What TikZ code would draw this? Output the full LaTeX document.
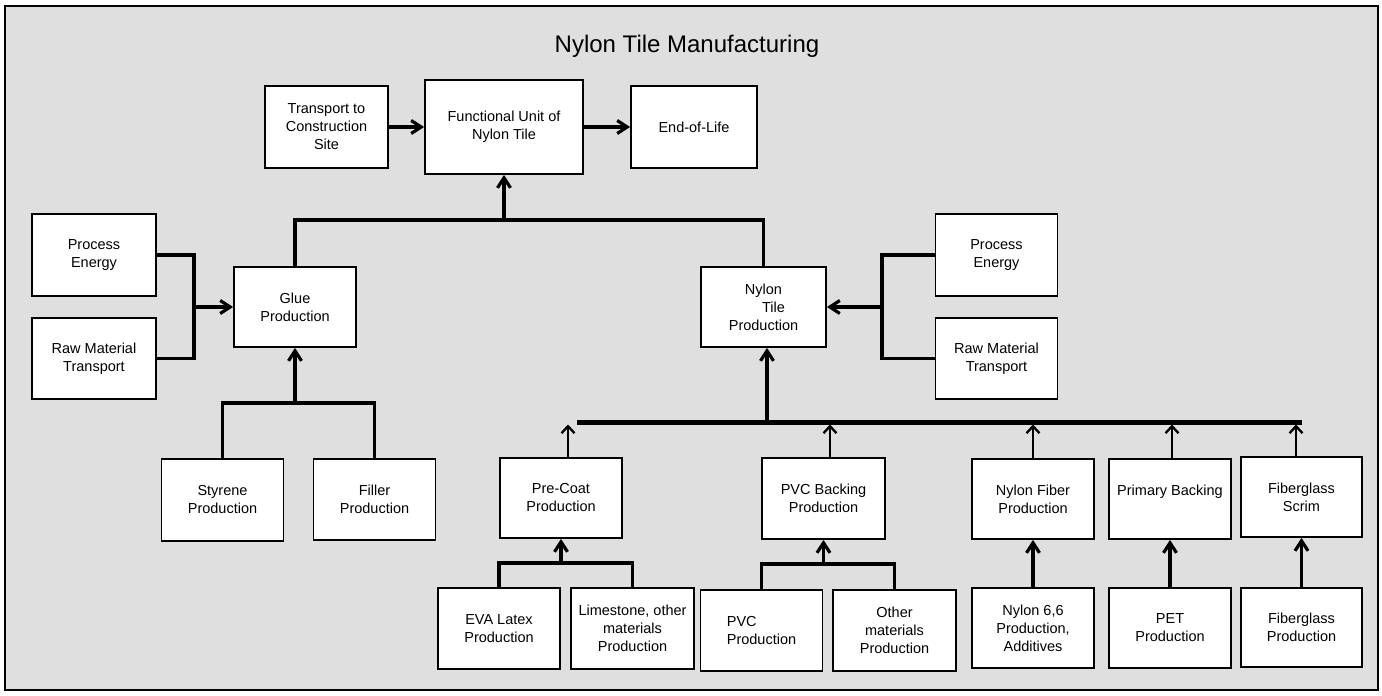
\documentclass[tikz,border=0pt]{standalone}
\usepackage{fontspec}
\setmainfont{Liberation Sans}
\usetikzlibrary{arrows.meta,positioning,calc}
\definecolor{ntmink}{HTML}{000000}
\definecolor{ntmpanel}{HTML}{DFDFDF}
\definecolor{ntmpaper}{HTML}{FFFFFF}
\tikzset{
  % every process step of the life cycle
  ntm box/.style={
    draw=ntmink, line width=1.8pt, fill=ntmpaper,
    minimum width=122pt, minimum height=81pt, inner sep=0pt,
    align=center, text=ntmink,
    font=\fontsize{14.5}{18}\selectfont,
  },
  % plain joins that gather several boxes
  ntm link/.style={
    draw=ntmink, line width=3.4pt,
  },
  % flows that end in a box
  ntm arrow/.style={
    draw=ntmink, line width=3.2pt,
    -{Straight Barb[length=10pt,width=13pt]},
  },
}
\tikzset{
  bus/.style={draw=ntmink, line width=5pt},
  feed/.style={draw=ntmink, line width=2.3pt, shorten >=2.5pt,
               -{Straight Barb[length=7pt,width=13pt]}},
}

\begin{document}
\begin{tikzpicture}[x=1pt,y=-1pt]
  \useasboundingbox (0,0) rectangle (1382,696);

  % ---- the panel -----------------------------------------------------------
  \draw[draw=ntmink,line width=2pt,fill=ntmpanel] (5,6) rectangle (1378,690);
  \node[font=\fontsize{24}{28}\selectfont,text=ntmink,anchor=base] (title)
    at (687,52) {Nylon Tile Manufacturing};

  % ---- use phase -----------------------------------------------------------
  \node[ntm box,minimum width=123pt,minimum height=82pt] (trans) at (326.5,127)
    {Transport to\\Construction\\Site};
  \node[ntm box,minimum width=158pt,minimum height=94pt] (fu) at (504,127)
    {Functional Unit of\\Nylon Tile};
  \node[ntm box,minimum width=126pt,minimum height=82pt] (eol) at (694,127)
    {End-of-Life};

  \draw[ntm arrow] (trans) -- (fu);
  \draw[ntm arrow] (fu) -- (eol);

  % ---- glue branch ---------------------------------------------------------
  \node[ntm box,minimum width=124pt,minimum height=82pt] (pel) at (94,255)
    {Process\\Energy};
  \node[ntm box,minimum width=124pt] (rml) at (94,358.5)
    {Raw Material\\Transport};
  \node[ntm box,minimum height=80pt] (glue) at (295,307) {Glue\\Production};
  \node[ntm box,minimum height=82pt] (styr) at (222.5,500) {Styrene\\Production};
  \node[ntm box,minimum height=81pt] (filler) at (374.5,499.5) {Filler\\Production};

  \coordinate (gluejoin) at (194,307);
  \draw[ntm link] (pel.east) -| (gluejoin) |- (rml.east);
  \draw[ntm arrow] (gluejoin) -- (glue);

  \coordinate (gluefeed) at (295,403);
  \draw[ntm link] (styr.north) |- (gluefeed) -| (filler.north);
  \draw[ntm arrow] (gluefeed) -- (glue);

  % ---- tile branch ---------------------------------------------------------
  \node[ntm box,minimum width=125pt,minimum height=80pt] (ntp) at (763.5,307)
    {Nylon\\\hspace*{20pt}Tile\\Production};
  \node[ntm box,minimum height=82pt] (per) at (996.5,255) {Process\\Energy};
  \node[ntm box] (rmr) at (996.5,358.5) {Raw Material\\Transport};

  \coordinate (ntpjoin) at (882,307);
  \draw[ntm link] (per.west) -| (ntpjoin) |- (rmr.west);
  \draw[ntm arrow] (ntpjoin) -- (ntp);

  % both branches meet under the functional unit
  \coordinate (fujoin) at (504,220);
  \draw[ntm link] (glue.north) |- (fujoin) -| (ntp.north);
  \draw[ntm arrow] (fujoin) -- (fu);

  % ---- tile components -----------------------------------------------------
  \node[ntm box,minimum height=80pt] (pcp) at (561,498) {Pre-Coat\\Production};
  \node[ntm box,minimum width=123pt] (pvcb) at (823.5,498.5)
    {PVC Backing\\Production};
  \node[ntm box,minimum height=80pt] (nfib) at (1033,499) {Nylon Fiber\\Production};
  \node[ntm box,minimum height=80pt] (pback) at (1170,499)
    {Primary Backing\\\mbox{}};
  \node[ntm box,minimum width=121pt,minimum height=80pt] (fgs) at (1301.5,497)
    {Fiberglass\\Scrim};

  \coordinate (busw) at (577,422);
  \coordinate (buse) at (1302,422);
  \draw[bus] (busw) -- (buse);
  \draw[ntm arrow] ([xshift=3.5pt]ntp.south |- busw) -- ([xshift=3.5pt]ntp.south);

  \draw[feed] ([xshift=7pt]pcp.north) -- ([xshift=7pt]pcp.north |- busw);
  \draw[feed] ([xshift=6.5pt]pvcb.north) -- ([xshift=6.5pt]pvcb.north |- busw);
  \draw[feed] (nfib.north) -- (nfib.north |- busw);
  \draw[feed] ([xshift=2pt]pback.north) -- ([xshift=2pt]pback.north |- busw);
  \draw[feed] ([xshift=-5.5pt]fgs.north) -- ([xshift=-5.5pt]fgs.north |- busw);

  % ---- raw materials -------------------------------------------------------
  \node[ntm box] (eva) at (499,628.5) {EVA Latex\\Production};
  \node[ntm box,minimum width=123pt] (lime) at (632.5,628.5)
    {Limestone, other\\materials\\Production};
  \node[ntm box] (pvc) at (761.5,630.5) {\rlap{PVC}\phantom{Production}\\Production};
  \node[ntm box,minimum width=123pt] (oth) at (894.5,630.5)
    {Other\\materials\\Production};
  \node[ntm box,minimum height=80pt] (n66) at (1033,628)
    {Nylon 6,6\\Production,\\Additives};
  \node[ntm box,minimum height=80pt] (pet) at (1170,628) {PET\\Production};
  \node[ntm box,minimum width=121pt,minimum height=79pt] (fgp) at (1301.5,627.5)
    {Fiberglass\\Production};

  \coordinate (pcpfeed) at (561,563);
  \draw[ntm link] (eva.north) |- (pcpfeed) -| (lime.north);
  \draw[ntm arrow] (pcpfeed) -- (pcp);

  \coordinate (pvcbfeed) at (823.5,564);
  \draw[ntm link] (pvc.north) |- (pvcbfeed) -| (oth.north);
  \draw[ntm arrow] (pvcbfeed) -- (pvcb);

  \draw[ntm arrow] (n66) -- (nfib);
  \draw[ntm arrow] (pet) -- (pback);
  \draw[ntm arrow] (fgp) -- (fgs);

\end{tikzpicture}
\end{document}
